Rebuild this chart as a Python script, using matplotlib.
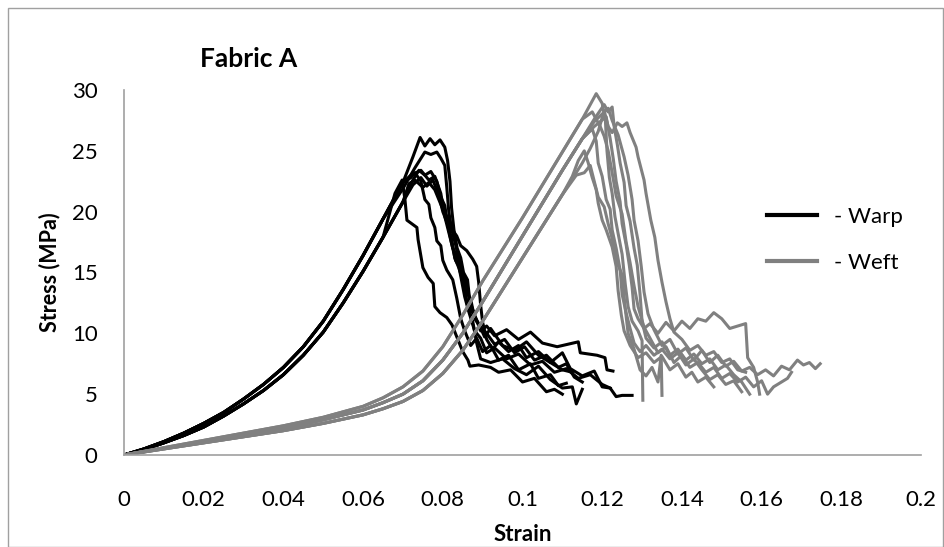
import matplotlib.pyplot as plt
from matplotlib.lines import Line2D
from matplotlib.patches import Rectangle

# --- datos (deformacion, tension en MPa) ---
warp_rise_x = [0, 0.005, 0.01, 0.015, 0.02, 0.025, 0.03, 0.035, 0.04, 0.045, 0.05, 0.055, 0.06, 0.065]
warp_rise_a = [0, 0.5, 1.1, 1.8, 2.6, 3.5, 4.6, 5.8, 7.2, 8.9, 11.0, 13.6, 16.4, 19.4]
warp_rise_b = [0, 0.45, 1.0, 1.6, 2.3, 3.2, 4.2, 5.3, 6.6, 8.2, 10.1, 12.5, 15.1, 17.9]

warp_tails = [
    # W1
    ([0.07, 0.0725, 0.0743, 0.0755, 0.0768, 0.078, 0.0793, 0.0805, 0.0812, 0.0818, 0.0822, 0.0828, 0.0836,
      0.0845, 0.0852, 0.0862, 0.0868, 0.088, 0.0895, 0.091, 0.093, 0.096, 0.099, 0.102, 0.105, 0.1087,
      0.114, 0.1145, 0.1187, 0.1207, 0.1212, 0.1227],
     [22.4, 24.5, 26.1, 25.4, 26.0, 25.5, 25.9, 25.3, 24.2, 22.5, 20.3, 18.5, 17.0,
      16.2, 15.0, 14.4, 12.6, 11.5, 10.2, 10.6, 9.8, 10.3, 9.5, 10.1, 9.2, 8.9,
      9.3, 8.4, 8.2, 8.0, 7.0, 6.9], 'a'),
    # W2
    ([0.07, 0.073, 0.0755, 0.077, 0.0785, 0.0795, 0.0805, 0.081, 0.0815, 0.0822, 0.0832, 0.0842, 0.0852,
      0.0862, 0.087, 0.089, 0.0905, 0.092, 0.095, 0.098, 0.101, 0.104, 0.107, 0.110, 0.112, 0.115, 0.118,
      0.120, 0.122, 0.1235, 0.125, 0.1275],
     [21.9, 23.6, 24.9, 24.7, 24.9, 24.4, 23.8, 22.0, 20.0, 18.6, 17.3, 15.8, 14.8,
      13.8, 12.0, 10.8, 9.7, 10.4, 9.0, 8.6, 9.3, 8.2, 7.6, 8.4, 7.1, 6.5, 6.9,
      5.6, 5.5, 4.8, 4.9, 4.9], 'a'),
    # W3
    ([0.07, 0.0725, 0.074, 0.0755, 0.077, 0.0785, 0.0795, 0.0805, 0.0812, 0.0822, 0.083, 0.084, 0.0853,
      0.0862, 0.0875, 0.0885, 0.0895, 0.092, 0.095, 0.098, 0.101, 0.104, 0.107, 0.110, 0.1125, 0.1135, 0.115],
     [20.8, 22.6, 23.4, 23.0, 23.3, 22.5, 21.2, 20.5, 19.0, 17.8, 16.2, 15.4, 14.1,
      12.3, 11.0, 9.2, 7.9, 7.6, 7.9, 7.1, 6.6, 7.3, 6.2, 5.5, 5.6, 4.2, 5.4], 'b'),
    # W4
    ([0.068, 0.0698, 0.0705, 0.071, 0.0735, 0.0738, 0.075, 0.0763, 0.0776, 0.078, 0.0793, 0.081, 0.0823,
      0.085, 0.0863, 0.0868, 0.089, 0.092, 0.094, 0.097, 0.100, 0.103, 0.106, 0.108, 0.110],
     [21.5, 22.6, 21.0, 19.3, 18.7, 17.7, 15.4, 14.6, 14.1, 12.2, 11.7, 11.3, 10.7,
      8.5, 7.8, 7.3, 7.4, 7.2, 6.8, 7.0, 6.0, 6.3, 5.2, 5.4, 5.0], 'b'),
    # W5
    ([0.07, 0.072, 0.0745, 0.0765, 0.078, 0.0795, 0.0805, 0.0815, 0.0825, 0.0835, 0.0845, 0.0855, 0.0865,
      0.088, 0.0895, 0.091, 0.093, 0.096, 0.099, 0.102, 0.105, 0.108, 0.111, 0.114, 0.117, 0.120, 0.122],
     [22.4, 23.0, 23.4, 22.6, 22.9, 21.5, 19.6, 18.3, 17.0, 16.4, 14.7, 13.0, 11.8,
      10.2, 9.6, 8.4, 8.8, 7.9, 8.3, 7.4, 7.7, 6.8, 7.1, 6.3, 6.6, 5.8, 5.5], 'a'),
    # W6
    ([0.07, 0.0725, 0.0745, 0.076, 0.0775, 0.079, 0.080, 0.0812, 0.0822, 0.0832, 0.0845, 0.0858, 0.087,
      0.088, 0.0895, 0.091, 0.093, 0.0955, 0.098, 0.1005, 0.103, 0.106, 0.109, 0.111, 0.113, 0.115],
     [20.8, 22.2, 22.8, 22.1, 22.6, 21.4, 20.0, 19.0, 17.4, 16.0, 15.3, 13.5, 12.8,
      11.2, 10.5, 10.0, 9.1, 9.5, 8.4, 8.9, 7.8, 8.2, 7.2, 7.5, 6.4, 6.0], 'b'),
    # W7
    ([0.07, 0.072, 0.073, 0.0745, 0.0755, 0.0765, 0.077, 0.078, 0.0785, 0.0795, 0.080, 0.081, 0.0825,
      0.0835, 0.0845, 0.0855, 0.087, 0.0885, 0.090, 0.092, 0.094, 0.0965, 0.099, 0.102, 0.104, 0.107,
      0.109, 0.111],
     [22.4, 22.8, 23.2, 22.5, 21.0, 20.6, 19.5, 18.7, 17.6, 17.2, 16.0, 15.2, 14.4,
      12.9, 11.2, 10.2, 9.0, 9.6, 8.5, 9.0, 7.8, 8.2, 7.0, 7.5, 6.3, 6.6,
      5.7, 5.9], 'a'),
    # W8
    ([0.07, 0.0715, 0.073, 0.075, 0.0765, 0.078, 0.079, 0.080, 0.0812, 0.0822, 0.0835, 0.0845, 0.086,
      0.0875, 0.0885, 0.089, 0.0895, 0.090, 0.091, 0.0925, 0.094, 0.0965, 0.099, 0.101, 0.104, 0.107,
      0.110, 0.1125],
     [20.8, 22.3, 22.6, 22.0, 22.4, 21.8, 21.0, 20.2, 19.5, 18.6, 18.0, 17.2, 16.8,
      16.1, 15.5, 14.2, 12.3, 10.9, 9.5, 8.7, 9.3, 8.5, 9.0, 8.0, 8.5, 7.6,
      7.0, 6.8], 'b'),
]

weft_rise_x = [0, 0.01, 0.02, 0.03, 0.04, 0.05, 0.06, 0.065, 0.07, 0.075, 0.08, 0.085, 0.09, 0.095, 0.10, 0.105, 0.11]
weft_rise_a = [0, 0.6, 1.2, 1.8, 2.4, 3.1, 4.0, 4.7, 5.6, 6.9, 8.9, 11.5, 14.3, 16.9, 19.5, 22.2, 24.9]
weft_rise_b = [0, 0.55, 1.1, 1.65, 2.2, 2.9, 3.7, 4.3, 5.0, 6.1, 7.8, 10.0, 12.6, 15.3, 18.0, 20.7, 23.4]
weft_rise_c = [0, 0.5, 1.0, 1.5, 2.0, 2.6, 3.3, 3.8, 4.4, 5.3, 6.7, 8.6, 11.0, 13.6, 16.2, 18.8, 21.4]

weft_tails = [
    # F1
    ([0.115, 0.117, 0.1185, 0.120, 0.1208, 0.1212, 0.1218, 0.1225, 0.1232, 0.124, 0.125, 0.1258, 0.1265,
      0.1275, 0.129, 0.130, 0.1302],
     [27.6, 28.8, 29.7, 28.9, 27.5, 25.0, 22.8, 21.5, 19.6, 18.2, 16.5, 14.0, 12.2,
      11.0, 10.2, 9.4, 4.5], 'a'),
    # F2
    ([0.115, 0.118, 0.1205, 0.1215, 0.1225, 0.123, 0.1238, 0.1245, 0.1255, 0.126, 0.127, 0.128, 0.1288,
      0.1295, 0.130, 0.131, 0.133, 0.135, 0.137, 0.139, 0.141, 0.143, 0.145, 0.147, 0.149, 0.151, 0.153,
      0.155, 0.157],
     [26.0, 27.6, 28.8, 28.2, 28.6, 27.0, 25.5, 24.0, 22.4, 20.5, 19.2, 17.0, 15.6,
      13.2, 11.0, 9.6, 8.8, 9.3, 8.2, 8.7, 7.8, 8.3, 7.5, 7.9, 7.0, 7.4, 6.6,
      6.0, 5.0], 'b'),
    # F3
    ([0.115, 0.117, 0.119, 0.1205, 0.1215, 0.1225, 0.1238, 0.125, 0.1262, 0.127, 0.1285, 0.129, 0.1305,
      0.131, 0.1322, 0.1332, 0.134, 0.135, 0.136, 0.137, 0.138, 0.140, 0.142, 0.144, 0.146, 0.148, 0.150,
      0.152, 0.154, 0.156],
     [24.0, 25.2, 26.6, 28.3, 27.0, 26.5, 27.3, 27.0, 27.3, 26.5, 25.3, 24.5, 22.6,
      21.5, 19.3, 17.9, 16.0, 14.2, 12.6, 11.2, 10.1, 9.5, 8.6, 9.0, 8.2, 8.5, 7.6,
      7.9, 7.0, 6.8], 'c'),
    # F4
    ([0.115, 0.118, 0.121, 0.122, 0.1228, 0.1235, 0.1245, 0.125, 0.126, 0.1268, 0.1275, 0.128, 0.129,
      0.1305, 0.132, 0.134, 0.136, 0.138, 0.140, 0.142, 0.144, 0.146, 0.148, 0.150, 0.152, 0.154, 0.156,
      0.1565, 0.158, 0.159, 0.1595],
     [26.0, 27.0, 27.8, 26.0, 24.3, 22.5, 20.8, 19.0, 17.3, 15.6, 13.8, 12.0, 11.2,
      10.4, 10.8, 10.0, 10.9, 10.2, 11.0, 10.4, 11.2, 11.0, 11.7, 11.2, 10.4, 10.6, 10.8,
      8.0, 7.2, 6.0, 5.0], 'b'),
    # F5
    ([0.1125, 0.114, 0.1155, 0.1165, 0.1175, 0.1185, 0.119, 0.120, 0.121, 0.1225, 0.1235, 0.124, 0.1248,
      0.1255, 0.127, 0.129, 0.131, 0.133, 0.135, 0.137, 0.139, 0.141, 0.1425, 0.144, 0.146, 0.148],
     [22.9, 24.2, 25.0, 24.0, 22.8, 21.8, 20.7, 19.3, 18.5, 17.1, 15.5, 13.5, 11.5,
      10.2, 9.0, 8.0, 8.4, 7.6, 8.1, 7.0, 7.5, 6.4, 6.8, 6.0, 6.4, 5.6], 'c'),
    # F6
    ([0.1135, 0.1155, 0.117, 0.118, 0.119, 0.1205, 0.1215, 0.1225, 0.1235, 0.125, 0.1258, 0.1265, 0.128,
      0.1295, 0.131, 0.1325, 0.134, 0.1348, 0.135],
     [23.0, 23.2, 23.8, 22.5, 21.2, 20.4, 19.0, 17.8, 16.0, 14.8, 12.0, 10.0, 8.7,
      7.0, 6.5, 7.2, 6.0, 8.2, 4.9], 'c'),
    # F7
    ([0.115, 0.118, 0.1215, 0.1225, 0.124, 0.1255, 0.1265, 0.1275, 0.128, 0.129, 0.1298, 0.1305, 0.1315,
      0.133, 0.135, 0.137, 0.139, 0.141, 0.143, 0.145, 0.147, 0.149, 0.151, 0.153, 0.155, 0.157, 0.159,
      0.161, 0.163, 0.165, 0.167, 0.169, 0.1705, 0.172, 0.1735, 0.1747],
     [26.0, 27.4, 28.5, 27.5, 26.3, 24.5, 23.0, 21.0, 19.3, 17.6, 15.5, 13.4, 11.6,
      10.3, 9.0, 9.5, 8.3, 8.8, 7.8, 8.6, 7.6, 8.2, 7.3, 7.7, 6.9, 7.2, 6.6,
      7.0, 6.5, 7.3, 7.0, 7.8, 7.4, 7.6, 7.1, 7.5], 'b'),
    # F8
    ([0.115, 0.1175, 0.1195, 0.1205, 0.1215, 0.1225, 0.1235, 0.125, 0.126, 0.127, 0.128, 0.129, 0.1305,
      0.132, 0.134, 0.136, 0.138, 0.140, 0.142, 0.144, 0.146, 0.148, 0.150, 0.152, 0.154, 0.156, 0.158,
      0.160, 0.1615, 0.163, 0.165, 0.1665, 0.1675],
     [27.6, 28.2, 27.0, 26.2, 25.0, 23.2, 21.3, 19.8, 17.5, 15.8, 13.9, 12.2, 10.5,
      9.6, 8.4, 8.9, 7.6, 8.2, 7.2, 7.6, 6.8, 7.2, 6.3, 6.7, 6.0, 6.4, 5.6,
      6.1, 5.0, 5.6, 6.0, 6.3, 6.8], 'a'),
    # F9
    ([0.115, 0.1175, 0.1185, 0.119, 0.120, 0.121, 0.122, 0.1225, 0.1235, 0.1245, 0.125, 0.126, 0.127,
      0.128, 0.1295, 0.131, 0.133, 0.135, 0.137, 0.139, 0.141, 0.143, 0.145, 0.147, 0.149, 0.151, 0.153, 0.155],
     [26.0, 26.8, 25.8, 24.0, 22.9, 21.0, 20.2, 18.5, 17.0, 15.2, 13.2, 11.7, 10.4,
      9.2, 8.5, 9.0, 8.2, 8.7, 7.9, 8.4, 7.4, 7.9, 7.0, 6.2, 6.6, 5.8, 6.1, 5.2], 'b'),
]

x_ticks = [0, 0.02, 0.04, 0.06, 0.08, 0.1, 0.12, 0.14, 0.16, 0.18, 0.2]
x_tick_labels = ['0', '0.02', '0.04', '0.06', '0.08', '0.1', '0.12', '0.14', '0.16', '0.18', '0.2']
y_ticks = [0, 5, 10, 15, 20, 25, 30]

warp_color = '#000000'
weft_color = '#808080'

plt.rcParams['font.family'] = ['Lato', 'DejaVu Sans']

fig = plt.figure(figsize=(9.44, 5.47), dpi=100)
ax = fig.add_axes([124 / 944, 1 - 455 / 547, (921 - 124) / 944, (455 - 90) / 547])

rises_w = {'a': warp_rise_a, 'b': warp_rise_b}
for xs, ys, r in warp_tails:
    ax.plot(warp_rise_x + xs, rises_w[r] + ys, color=warp_color, lw=2.2, solid_joinstyle='round')

rises_f = {'a': weft_rise_a, 'b': weft_rise_b, 'c': weft_rise_c}
for xs, ys, r in weft_tails:
    ax.plot(weft_rise_x + xs, rises_f[r] + ys, color=weft_color, lw=2.2, solid_joinstyle='round')

ax.set_xlim(0, 0.2)
ax.set_ylim(0, 30)
ax.set_xticks(x_ticks)
ax.set_xticklabels(x_tick_labels)
ax.set_yticks(y_ticks)
ax.tick_params(axis='both', length=0, labelsize=16)
ax.tick_params(axis='x', pad=25)
ax.tick_params(axis='y', pad=19)
for s in ['top', 'right']:
    ax.spines[s].set_visible(False)
for s in ['left', 'bottom']:
    ax.spines[s].set_color('#A0A0A0')
    ax.spines[s].set_linewidth(1.2)

ax.set_xlabel('Strain', fontsize=16, fontweight='bold', labelpad=10)
ax.set_ylabel('Stress (MPa)', fontsize=15.5, fontweight='bold', labelpad=8)
fig.text(200 / 944, 1 - 59 / 547, 'Fabric A', fontsize=19, fontweight='bold', va='center', ha='left')

handles = [Line2D([], [], color=warp_color, lw=3), Line2D([], [], color=weft_color, lw=3)]
fig.legend(handles, ['- Warp', '- Weft'], loc='upper left', bbox_to_anchor=(747 / 944, 1 - 187 / 547),
           frameon=False, fontsize=16, handlelength=2.25, handletextpad=0.75, labelspacing=1.15)

fig.add_artist(Rectangle((8 / 944, 0), 1 - 8 / 944 - 1 / 944, 1 - 8 / 547, transform=fig.transFigure,
                         fill=False, edgecolor='#A0A0A0', lw=1))

fig.savefig('out.png', dpi=100)
